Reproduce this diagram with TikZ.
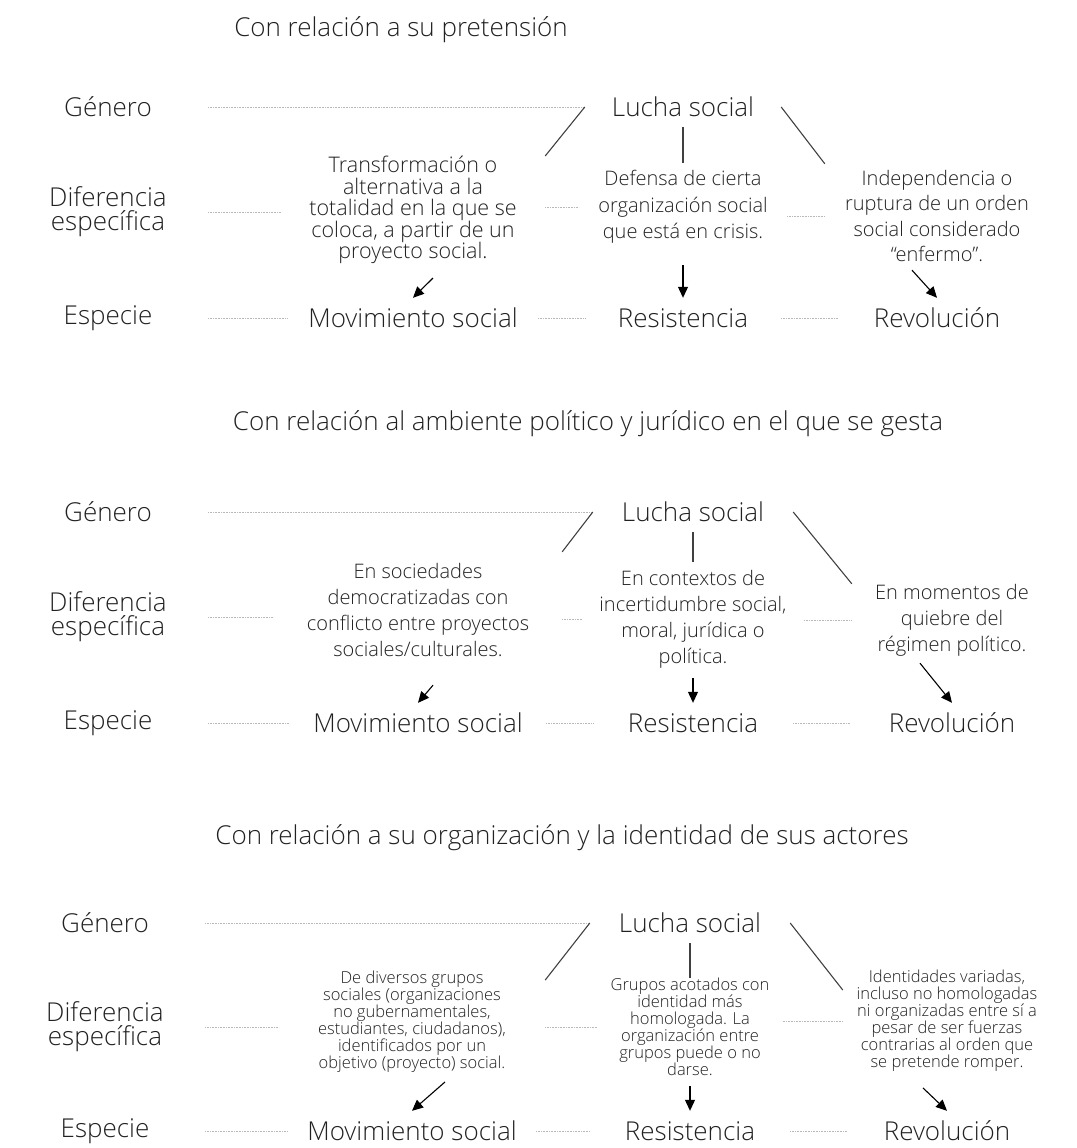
\documentclass[tikz,border=0pt]{standalone}
\usepackage{fontspec}
\setmainfont{Open Sans Light}
\usetikzlibrary{arrows.meta, positioning}
\definecolor{inkgray}{rgb}{0.13, 0.13, 0.13}
\definecolor{branchgray}{rgb}{0.25, 0.25, 0.25}
\definecolor{guidegray}{rgb}{0.72, 0.72, 0.72}

\begin{document}
\begin{tikzpicture}[x=1pt, y=-1pt,
    headline/.style={inner sep=0pt, text=inkgray, font=\fontsize{26}{28}\selectfont},
    rowname/.style={align=center, inner sep=0pt, minimum width=200pt, minimum height=40pt, text=inkgray, font=\fontsize{26}{24}\selectfont},
    term/.style={align=center, inner sep=0pt, minimum height=40pt, text=inkgray, font=\fontsize{26}{27}\selectfont},
    desc/.style={align=center, inner sep=0pt, text=inkgray, font=\fontsize{21.5}{21.5}\selectfont},
    descwide/.style={align=center, inner sep=0pt, text=inkgray, font=\fontsize{20}{26}\selectfont},
    descsmall/.style={align=center, inner sep=0pt, text=inkgray, font=\fontsize{16.5}{17}\selectfont},
    guide/.style={densely dotted, color=guidegray, line width=0.6pt},
    branch/.style={color=branchgray, line width=1.1pt},
    descend/.style={-{Triangle[length=11pt, width=10pt]}, color=black, line width=1.1pt}]

    \useasboundingbox (0,0) rectangle (1076,1148);

    \node [headline] (Head1) at (401, 30) {Con relación a su pretensión};
    \node [rowname] (Gen1) at (108, 107) {Género};
    \node [rowname] (Dif1) at (108, 212) {Diferencia\\específica};
    \node [rowname] (Esp1) at (108, 318) {Especie};
    \node [term, minimum width=196pt] (Luc1) at (683, 107) {Lucha social};
    \node [desc, minimum width=264pt, minimum height=104pt] (Da1) at (413, 210) {Transformación o\\alternativa a la\\totalidad en la que se\\coloca, a partir de un\\proyecto social.};
    \node [descwide, minimum width=208pt, minimum height=88pt, font=\fontsize{20}{26.5}\selectfont] (Db1) at (683, 207) {Defensa de cierta\\organización social\\que está en crisis.};
    \node [descwide, minimum width=224pt, minimum height=104pt, font=\fontsize{20}{25.3}\selectfont] (Dc1) at (937, 216) {Independencia o\\ruptura de un orden\\social considerado\\“enfermo”.};
    \node [term, minimum width=250pt] (Sa1) at (413, 318) {Movimiento social};
    \node [term, minimum width=196pt] (Sb1) at (683, 318) {Resistencia};
    \node [term, minimum width=198pt] (Sc1) at (937, 318) {Revolución};

    \draw [guide] (Gen1.east) -- (Luc1.west);
    \draw [guide] (Dif1.east) -- (Dif1.east -| Da1.west);
    \draw [guide] (Da1.east |- Db1.west) -- (Db1.west);
    \draw [guide] (Db1.east |- Dc1.west) -- (Dc1.west);
    \draw [guide] (Esp1.east) -- (Sa1.west);
    \draw [guide] (Sa1.east) -- (Sb1.west);
    \draw [guide] (Sb1.east) -- (Sc1.west);
    \draw [branch] (Luc1.west) -- (Da1.north east);
    \draw [branch] (Luc1.south) -- (Db1.north);
    \draw [branch] (Luc1.east) -- (Dc1.north west);
    \draw [descend] ([shift={(20,14)}]Da1.south) -- (Sa1.north);
    \draw [descend] ([shift={(0,14)}]Db1.south) -- (Sb1.north);
    \draw [descend] ([shift={(-25,2)}]Dc1.south) -- (Sc1.north);

    \node [headline] (Head2) at (588, 424) {Con relación al ambiente político y jurídico en el que se gesta};
    \node [rowname] (Gen2) at (108, 512) {Género};
    \node [rowname] (Dif2) at (108, 617) {Diferencia\\específica};
    \node [rowname] (Esp2) at (108, 723) {Especie};
    \node [term, minimum width=200pt] (Luc2) at (693, 512) {Lucha social};
    \node [descwide, minimum width=288pt, minimum height=116pt] (Da2) at (418, 610) {En sociedades\\democratizadas con\\conflicto entre proyectos\\sociales/culturales.};
    \node [descwide, minimum width=222pt, minimum height=114pt] (Db2) at (693, 619) {En contextos de\\incertidumbre social,\\moral, jurídica o\\política.};
    \node [descwide, minimum width=200pt, minimum height=68pt] (Dc2) at (952, 620) {En momentos de\\quiebre del\\régimen político.};
    \node [term, minimum width=256pt] (Sa2) at (418, 723) {Movimiento social};
    \node [term, minimum width=200pt] (Sb2) at (693, 723) {Resistencia};
    \node [term, minimum width=204pt] (Sc2) at (952, 723) {Revolución};

    \draw [guide] (Gen2.east) -- (Luc2.west);
    \draw [guide] (Dif2.east) -- (Dif2.east -| Da2.west);
    \draw [guide] (Da2.east |- Db2.west) -- (Db2.west);
    \draw [guide] (Db2.east |- Dc2.west) -- (Dc2.west);
    \draw [guide] (Esp2.east) -- (Sa2.west);
    \draw [guide] (Sa2.east) -- (Sb2.west);
    \draw [guide] (Sb2.east) -- (Sc2.west);
    \draw [branch] (Luc2.west) -- (Da2.north east);
    \draw [branch] (Luc2.south) -- (Db2.north);
    \draw [branch] (Luc2.east) -- (Dc2.north west);
    \draw [descend] ([shift={(15,17)}]Da2.south) -- (Sa2.north);
    \draw [descend] ([shift={(0,2)}]Db2.south) -- (Sb2.north);
    \draw [descend] ([shift={(-32,7)}]Dc2.south) -- (Sc2.north);

    \node [headline] (Head3) at (562, 838) {Con relación a su organización y la identidad de sus actores};
    \node [rowname] (Gen3) at (105, 923) {Género};
    \node [rowname] (Dif3) at (105, 1027) {Diferencia\\específica};
    \node [rowname] (Esp3) at (105, 1131) {Especie};
    \node [term, minimum width=200pt] (Luc3) at (690, 923) {Lucha social};
    \node [descsmall, minimum width=266pt] (Da3) at (412, 1022) {De diversos grupos\\sociales (organizaciones\\no gubernamentales,\\estudiantes, ciudadanos),\\identificados por un\\objetivo (proyecto) social.};
    \node [descsmall, minimum width=185pt] (Db3) at (690, 1027) {Grupos acotados con\\identidad más\\homologada. La\\organización entre\\grupos puede o no\\darse.};
    \node [descsmall, minimum width=208pt] (Dc3) at (947, 1021) {Identidades variadas,\\incluso no homologadas\\ni organizadas entre sí a\\pesar de ser fuerzas\\contrarias al orden que\\se pretende romper.};
    \node [term, minimum width=248pt] (Sa3) at (412, 1131) {Movimiento social};
    \node [term, minimum width=200pt] (Sb3) at (690, 1131) {Resistencia};
    \node [term, minimum width=200pt] (Sc3) at (947, 1131) {Revolución};

    \draw [guide] (Gen3.east) -- (Luc3.west);
    \draw [guide] (Dif3.east) -- (Dif3.east -| Da3.west);
    \draw [guide] (Da3.east |- Db3.west) -- (Db3.west);
    \draw [guide] (Db3.east |- Dc3.west) -- (Dc3.west);
    \draw [guide] (Esp3.east) -- (Sa3.west);
    \draw [guide] (Sa3.east) -- (Sb3.west);
    \draw [guide] (Sb3.east) -- (Sc3.west);
    \draw [branch] (Luc3.west) -- ([shift={(0,9)}]Da3.north east);
    \draw [branch] (Luc3.south) -- (Db3.north);
    \draw [branch] (Luc3.east) -- ([shift={(0,20)}]Dc3.north west);
    \draw [descend] ([shift={(33,9)}]Da3.south) -- (Sa3.north);
    \draw [descend] ([shift={(0,10)}]Db3.south) -- (Sb3.north);
    \draw [descend] ([shift={(-24,16)}]Dc3.south) -- (Sc3.north);
\end{tikzpicture}
\end{document}
